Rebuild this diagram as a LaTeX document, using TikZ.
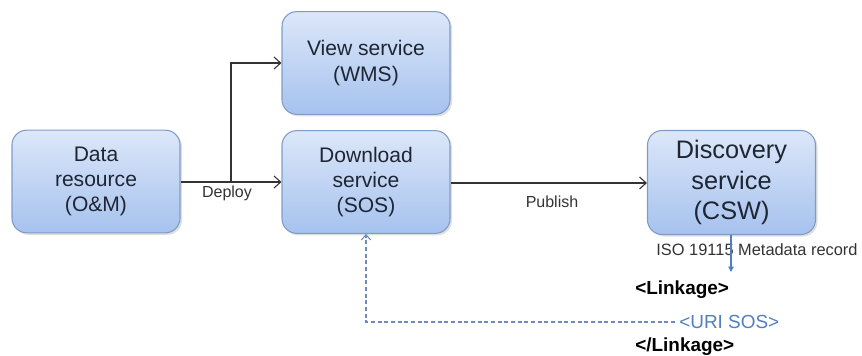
\documentclass[tikz,border=0pt]{standalone}
\usepackage{fontspec}
\setmainfont{Liberation Sans}
\usetikzlibrary{arrows.meta,shadows}
\definecolor{boxtop}{HTML}{DCE7F9}
\definecolor{boxbot}{HTML}{A6C2EE}
\definecolor{boxline}{HTML}{7F9CC8}
\definecolor{txt}{HTML}{1E2633}
\definecolor{lbl}{HTML}{333333}
\definecolor{blu}{HTML}{4F7FC0}
\definecolor{dashcol}{HTML}{6A8CC2}
\tikzset{
  svcbox/.style={draw=boxline, line width=0.8pt, rounded corners=11pt,
    top color=boxtop, bottom color=boxbot,
    minimum width=126pt, minimum height=77pt, align=center, text=txt,
    font=\fontsize{15.8pt}{19pt}\selectfont,
    drop shadow={opacity=0.25, shadow xshift=1.5pt, shadow yshift=-1.5pt}},
  flow/.style={draw=black!80, line width=0.8pt, -{Straight Barb[length=5pt,width=9pt]}},
  lab/.style={text=lbl, font=\fontsize{12pt}{14pt}\selectfont, inner sep=1pt},
  tag/.style={font=\bfseries\fontsize{14.2pt}{16pt}\selectfont, anchor=west, inner sep=0pt}
}
\begin{document}
\begin{tikzpicture}[x=0.75pt,y=-0.75pt]
\useasboundingbox (0,0) rectangle (862,356);
\node[svcbox] (data) at (96,181.5) {Data\\resource\\(O\&M)};
\node[svcbox] (view) at (366,63) {View service\\(WMS)};
\node[svcbox] (down) at (366,182) {Download\\service\\(SOS)};
\node[svcbox, minimum height=78pt, font=\fontsize{19pt}{23.2pt}\selectfont] (disc) at (731.5,182.5) {Discovery\\service\\(CSW)};
\coordinate (branch) at (231,182);
\draw[flow] (data.east |- 0,182) -- (down.west |- 0,182);
\draw[flow] (branch) |- (view.west);
\node[lab] (deploy) at (227,193) {Deploy};
\draw[flow] (down.east |- 0,183) -- (disc.west |- 0,183);
\node[lab] (publish) at (552,202) {Publish};
\node[lab, font=\fontsize{12.3pt}{14pt}\selectfont] (iso) at (757,250) {ISO 19115 Metadata record};
\draw[blu, line width=0.9pt, -{Triangle[length=4pt,width=4pt]}] (disc.south -| 731,0) -- (731,272) coordinate (isoend);
\node[tag] (link1) at (635,290) {<Linkage>};
\node[tag, font=\fontsize{14.2pt}{16pt}\selectfont, text=blu, inner sep=3pt] (uri) at (675,322) {<URI SOS>};
\node[tag] (link2) at (635,347) {</Linkage>};
\draw[dashcol, densely dashed, line width=0.8pt, -{Straight Barb[length=4pt,width=7pt]}] (uri.west) -- (366,322) -- (down.south);
\end{tikzpicture}
\end{document}
